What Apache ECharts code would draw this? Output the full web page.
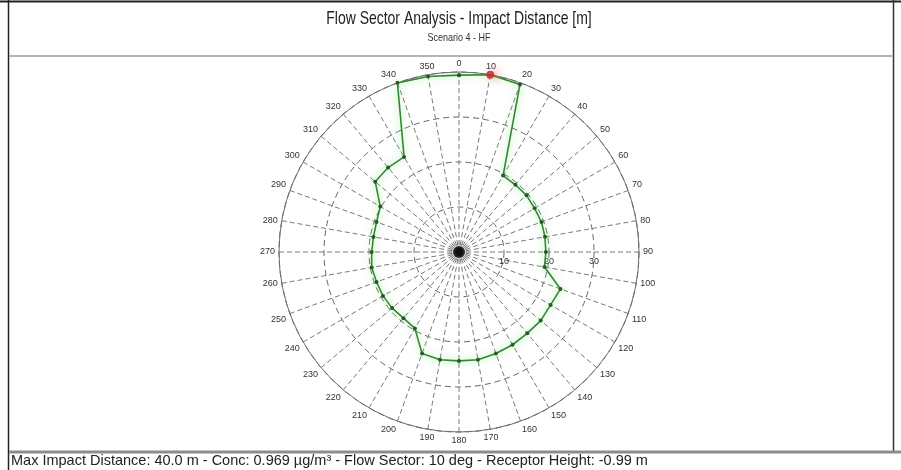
<!DOCTYPE html>
<html>
<head>
<meta charset="utf-8">
<script src="https://cdn.jsdelivr.net/npm/echarts@6/dist/echarts.min.js"></script>
<style>
  html, body { margin: 0; padding: 0; background: #fff; }
  #chart { width: 901px; height: 470px; }
</style>
</head>
<body>
<div id="chart"></div>
<script>
// Header / footer texts
const titleText = 'Flow Sector Analysis - Impact Distance [m]';
const subtitleText = 'Scenario 4 - HF';
const statusText = 'Max Impact Distance: 40.0 m - Conc: 0.969 \u00b5g/m\u00b3 - Flow Sector: 10 deg - Receptor Height: -0.99 m';

// Flow sectors (deg, clockwise from north) and impact distance per sector (m)
const sectors = [0, 10, 20, 30, 40, 50, 60, 70, 80, 90, 100, 110,
                 120, 130, 140, 150, 160, 170, 180, 190, 200, 210, 220, 230,
                 240, 250, 260, 270, 280, 290, 300, 310, 320, 330, 340, 350];
const distances = [39.3, 40.0, 39.6, 19.6, 19.5, 19.6, 19.4, 19.5, 19.4, 19.3, 19.3, 24.0,
                   23.5, 23.7, 23.6, 23.8, 24.0, 24.3, 24.2, 24.3, 24.0, 19.6, 19.2, 19.4,
                   19.5, 19.5, 19.7, 19.4, 19.3, 19.5, 20.2, 24.3, 24.5, 24.4, 40.0, 39.6];

// Worst-case sector
const maxSector = 10;
const maxDistance = 40.0;

// Axis ranges and tick labels
const radiusMax = 40;
const radiusStep = 10;
const radialTickLabels = [10, 20, 30];
const angleStep = 10;

const chart = echarts.init(document.getElementById('chart'), null, { renderer: 'canvas' });

// Closed outline: repeat the first sector at the end
const outline = sectors.map((s, i) => [distances[i], s]);
outline.push([distances[0], sectors[0]]);

const FONT = "'Liberation Sans', Arial, sans-serif";
const CX = 459, CY = 252, R = 180;

const option = {
  backgroundColor: '#ffffff',
  animation: false,
  polar: [
    { center: [CX, CY], radius: R },
    { center: [CX, CY], radius: R }
  ],
  angleAxis: [
    {
      polarIndex: 0,
      type: 'value',
      min: 0,
      max: 360,
      interval: angleStep,
      startAngle: 90,
      clockwise: true,
      axisLine: { show: true, lineStyle: { color: '#6e6e6e', width: 1 } },
      axisTick: { show: false },
      axisLabel: {
        show: true,
        margin: 4,
        fontSize: 9,
        fontFamily: FONT,
        color: '#333',
        formatter: v => (v >= 360 ? '' : String(v))
      },
      splitLine: { show: true, lineStyle: { color: '#7a7a7a', width: 1, type: [5, 3] } }
    },
    {
      polarIndex: 1,
      type: 'value',
      min: 0,
      max: 360,
      startAngle: 0,
      show: false
    }
  ],
  radiusAxis: [
    {
      polarIndex: 0,
      type: 'value',
      min: 0,
      max: radiusMax,
      interval: radiusStep,
      axisLine: { show: false },
      axisTick: { show: false },
      axisLabel: { show: false },
      splitLine: { show: true, lineStyle: { color: '#666', width: 1, type: [6, 4] } }
    },
    {
      // distance labels along the east axis, just below it
      polarIndex: 1,
      type: 'value',
      min: 0,
      max: radiusMax,
      interval: radiusStep,
      axisLine: { show: false },
      axisTick: { show: false },
      splitLine: { show: false },
      axisLabel: {
        show: true,
        fontSize: 9,
        fontFamily: FONT,
        color: '#333',
        margin: -5,
        verticalAlign: 'top',
        align: 'center',
        formatter: v => (radialTickLabels.indexOf(v) >= 0 ? String(v) : '')
      }
    }
  ],
  graphic: [
    // outer frame
    { type: 'line', shape: { x1: 0, y1: 1.5, x2: 901, y2: 1.5 }, style: { stroke: '#222', lineWidth: 2 }, z: 10 },
    { type: 'line', shape: { x1: 8.5, y1: 0, x2: 8.5, y2: 470 }, style: { stroke: '#222', lineWidth: 1.5 }, z: 10 },
    { type: 'line', shape: { x1: 893.5, y1: 0, x2: 893.5, y2: 451 }, style: { stroke: '#333', lineWidth: 1.5 }, z: 10 },
    // header separator
    { type: 'line', shape: { x1: 9, y1: 56, x2: 893, y2: 56 }, style: { stroke: '#b4b4b4', lineWidth: 2 }, z: 10 },
    // status bar separator
    { type: 'line', shape: { x1: 9, y1: 452, x2: 901, y2: 452 }, style: { stroke: '#8c8c8c', lineWidth: 3 }, z: 10 },
    // title and subtitle
    {
      type: 'text', x: CX, y: 19, scaleX: 0.735, scaleY: 1, z: 10,
      style: { text: titleText, fontSize: 19, fontFamily: FONT, fill: '#222', align: 'center', verticalAlign: 'middle' }
    },
    {
      type: 'text', x: CX, y: 38, scaleX: 0.82, scaleY: 1, z: 10,
      style: { text: subtitleText, fontSize: 11, fontFamily: FONT, fill: '#333', align: 'center', verticalAlign: 'middle' }
    },
    // status line
    {
      type: 'text', x: 11, y: 461, scaleX: 1.0, scaleY: 1, z: 10,
      style: { text: statusText, fontSize: 14.5, fontFamily: FONT, fill: '#222', align: 'left', verticalAlign: 'middle' }
    }
  ],
  series: [
    {
      name: 'Impact Distance',
      type: 'line',
      coordinateSystem: 'polar',
      polarIndex: 0,
      data: outline,
      symbol: 'circle',
      symbolSize: 4,
      itemStyle: { color: '#245c24' },
      lineStyle: {
        color: '#2f8a2f',
        width: 1.6,
        shadowColor: 'rgba(110, 220, 110, 0.8)',
        shadowBlur: 8
      },
      z: 5
    },
    {
      name: 'Source',
      type: 'scatter',
      coordinateSystem: 'polar',
      polarIndex: 0,
      data: [[0, 0]],
      symbolSize: 12,
      itemStyle: { color: '#000', shadowColor: 'rgba(0,0,0,0.5)', shadowBlur: 4 },
      z: 6
    },
    {
      name: 'Max Sector',
      type: 'scatter',
      coordinateSystem: 'polar',
      polarIndex: 0,
      data: [[maxDistance, maxSector]],
      symbolSize: 8,
      itemStyle: { color: '#c81e1e', shadowColor: 'rgba(255, 90, 90, 0.85)', shadowBlur: 9, shadowOffsetX: 4 },
      z: 7
    }
  ]
};

chart.setOption(option);
</script>
</body>
</html>
